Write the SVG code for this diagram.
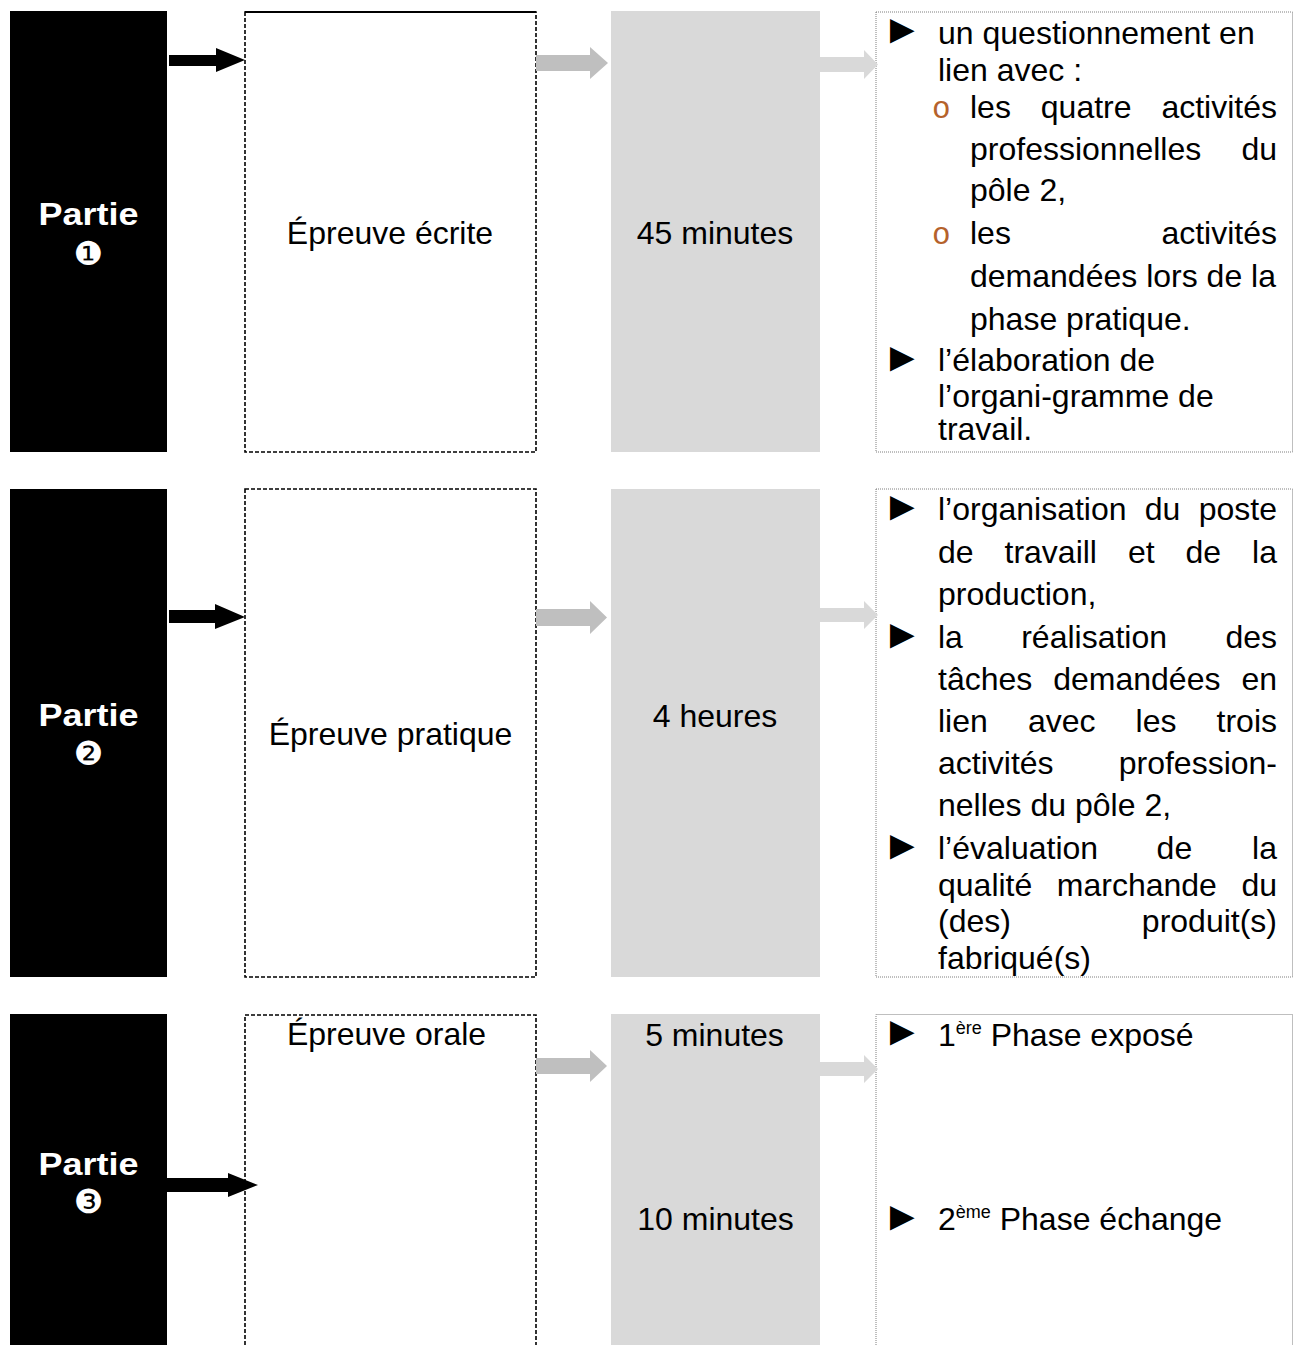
<svg xmlns="http://www.w3.org/2000/svg" width="1294" height="1345" viewBox="0 0 1294 1345">
<style>
.part{fill:#000}
.ptxt{fill:#fff;font-family:"Liberation Sans",Arial,sans-serif;font-weight:bold;font-size:32px;text-anchor:middle}
.num{fill:#fff;font-family:"DejaVu Sans",sans-serif;font-size:33px;text-anchor:middle}
.box{fill:#fff;stroke:#000;stroke-width:1.6;stroke-dasharray:4 2}
.gbox{fill:#d9d9d9}
.dbox{fill:#fff;stroke:#7f7f7f;stroke-width:1;stroke-dasharray:1 1}
.t{font-family:"Liberation Sans",Arial,sans-serif;font-size:32px;fill:#000}
.c{text-anchor:middle}
.e{text-anchor:end}
.b{font-family:"Liberation Sans","DejaVu Sans",sans-serif;font-size:41px;fill:#000}
.o{font-family:"Liberation Mono","Courier New",monospace;font-size:31px;fill:#b5622b}
.sup{font-size:18px}
.ak{fill:#000}
.am{fill:#bfbfbf}
.al{fill:#d9d9d9}
</style>

<g id="partie1">
<rect class="part" x="10" y="11" width="157" height="441"/>
<text class="ptxt" x="88.5" y="225" textLength="100" lengthAdjust="spacingAndGlyphs">Partie</text>
<text class="num" x="88.5" y="265">❶</text>
</g>
<g id="epreuve1">
<rect class="box" x="245" y="12" width="291" height="440"/>
<line x1="245" y1="12" x2="536" y2="12" stroke="#000" stroke-width="2"/>
<text class="t c" x="390" y="244">Épreuve écrite</text>
</g>
<g id="duree1">
<rect class="gbox" x="611" y="11" width="209" height="441"/>
<text class="t c" x="715" y="244">45 minutes</text>
</g>
<g id="contenu1">
<rect class="dbox" x="876" y="12" width="416.5" height="440"/>
<text class="b" x="882" y="43">►</text>
<text class="t" x="938" y="43.5">un questionnement en</text>
<text class="t" x="938" y="81">lien avec :</text>
<text class="o" x="932" y="118">o</text>
<text class="t" x="970" y="118">les</text>
<text class="t" x="1040.8" y="118">quatre</text>
<text class="t e" x="1277" y="118">activités</text>
<text class="t" x="970" y="160">professionnelles</text>
<text class="t e" x="1277" y="160">du</text>
<text class="t" x="970" y="201">pôle 2,</text>
<text class="o" x="932" y="244">o</text>
<text class="t" x="970" y="244">les</text>
<text class="t e" x="1277" y="244">activités</text>
<text class="t" x="970" y="287">demandées lors de la</text>
<text class="t" x="970" y="330">phase pratique.</text>
<text class="b" x="882" y="371">►</text>
<text class="t" x="938" y="371">l’élaboration de</text>
<text class="t" x="938" y="407">l’organi-gramme de</text>
<text class="t" x="938" y="440">travail.</text>
</g>

<g id="partie2">
<rect class="part" x="10" y="489" width="157" height="488"/>
<text class="ptxt" x="88.5" y="726" textLength="100" lengthAdjust="spacingAndGlyphs">Partie</text>
<text class="num" x="88.5" y="765">❷</text>
</g>
<g id="epreuve2">
<rect class="box" x="245" y="489" width="291" height="488"/>
<text class="t c" x="390.5" y="745">Épreuve pratique</text>
</g>
<g id="duree2">
<rect class="gbox" x="611" y="489" width="209" height="488"/>
<text class="t c" x="715" y="727">4 heures</text>
</g>
<g id="contenu2">
<rect class="dbox" x="876" y="489" width="416.5" height="488"/>
<text class="b" x="882" y="520">►</text>
<text class="t" x="938" y="520">l’organisation</text>
<text class="t" x="1144.8" y="520">du</text>
<text class="t e" x="1277" y="520">poste</text>
<text class="t" x="938" y="563">de</text>
<text class="t" x="1004.5" y="563">travaill</text>
<text class="t" x="1127.9" y="563">et</text>
<text class="t" x="1185.5" y="563">de</text>
<text class="t e" x="1277" y="563">la</text>
<text class="t" x="938" y="605">production,</text>
<text class="b" x="882" y="648">►</text>
<text class="t" x="938" y="648">la</text>
<text class="t" x="1021.2" y="648">réalisation</text>
<text class="t e" x="1277" y="648">des</text>
<text class="t" x="938" y="690">tâches</text>
<text class="t" x="1053.2" y="690">demandées</text>
<text class="t e" x="1277" y="690">en</text>
<text class="t" x="938" y="732">lien</text>
<text class="t" x="1027.9" y="732">avec</text>
<text class="t" x="1135.6" y="732">les</text>
<text class="t e" x="1277" y="732">trois</text>
<text class="t" x="938" y="774">activités</text>
<text class="t e" x="1277" y="774">profession-</text>
<text class="t" x="938" y="816">nelles du pôle 2,</text>
<text class="b" x="882" y="859">►</text>
<text class="t" x="938" y="859">l’évaluation</text>
<text class="t" x="1156.6" y="859">de</text>
<text class="t e" x="1277" y="859">la</text>
<text class="t" x="938" y="896">qualité</text>
<text class="t" x="1056.8" y="896">marchande</text>
<text class="t e" x="1277" y="896">du</text>
<text class="t" x="938" y="932">(des)</text>
<text class="t e" x="1277" y="932">produit(s)</text>
<text class="t" x="938" y="969">fabriqué(s)</text>
</g>

<g id="partie3">
<rect class="part" x="10" y="1014" width="157" height="331"/>
<text class="ptxt" x="88.5" y="1175" textLength="100" lengthAdjust="spacingAndGlyphs">Partie</text>
<text class="num" x="88.5" y="1213">❸</text>
</g>
<g id="epreuve3">
<path class="box" d="M245,1345 V1015 H536 V1345"/>
<text class="t c" x="386.5" y="1045">Épreuve orale</text>
</g>
<g id="duree3">
<rect class="gbox" x="611" y="1014" width="209" height="331"/>
<text class="t c" x="714.5" y="1046">5 minutes</text>
<text class="t c" x="715.5" y="1230">10 minutes</text>
</g>
<g id="contenu3">
<path class="dbox" d="M876,1345 V1014.5 H1292.5 V1345"/>
<text class="b" x="882" y="1045">►</text>
<text class="t" x="938" y="1046">1<tspan class="sup" dy="-12">ère</tspan><tspan dy="12"> Phase exposé</tspan></text>
<text class="b" x="882" y="1230">►</text>
<text class="t" x="938" y="1230">2<tspan class="sup" dy="-12">ème</tspan><tspan dy="12"> Phase échange</tspan></text>
</g>

<g id="connectors">
<polygon class="ak" points="169,55 216,55 216,48 245,60 216,72 216,66 169,66"/>
<polygon class="am" points="536,55 590,55 590,47 608,63 590,79 590,71 536,71"/>
<polygon class="al" points="820,57 864,57 864,50 878,64.5 864,79 864,72 820,72"/>
<polygon class="ak" points="169,610 215,610 215,604 245,617 215,629 215,623 169,623"/>
<polygon class="am" points="536,609 590,609 590,601 607,617.5 590,634 590,626 536,626"/>
<polygon class="al" points="820,608 864,608 864,601 878,615 864,629 864,622 820,622"/>
<polygon class="ak" points="167,1178 228,1178 228,1173 258,1185 228,1197 228,1192 167,1192"/>
<polygon class="am" points="536,1058 590,1058 590,1050 607,1066 590,1082 590,1074 536,1074"/>
<polygon class="al" points="820,1062 864,1062 864,1055 878,1069 864,1083 864,1076 820,1076"/>
</g>
</svg>
